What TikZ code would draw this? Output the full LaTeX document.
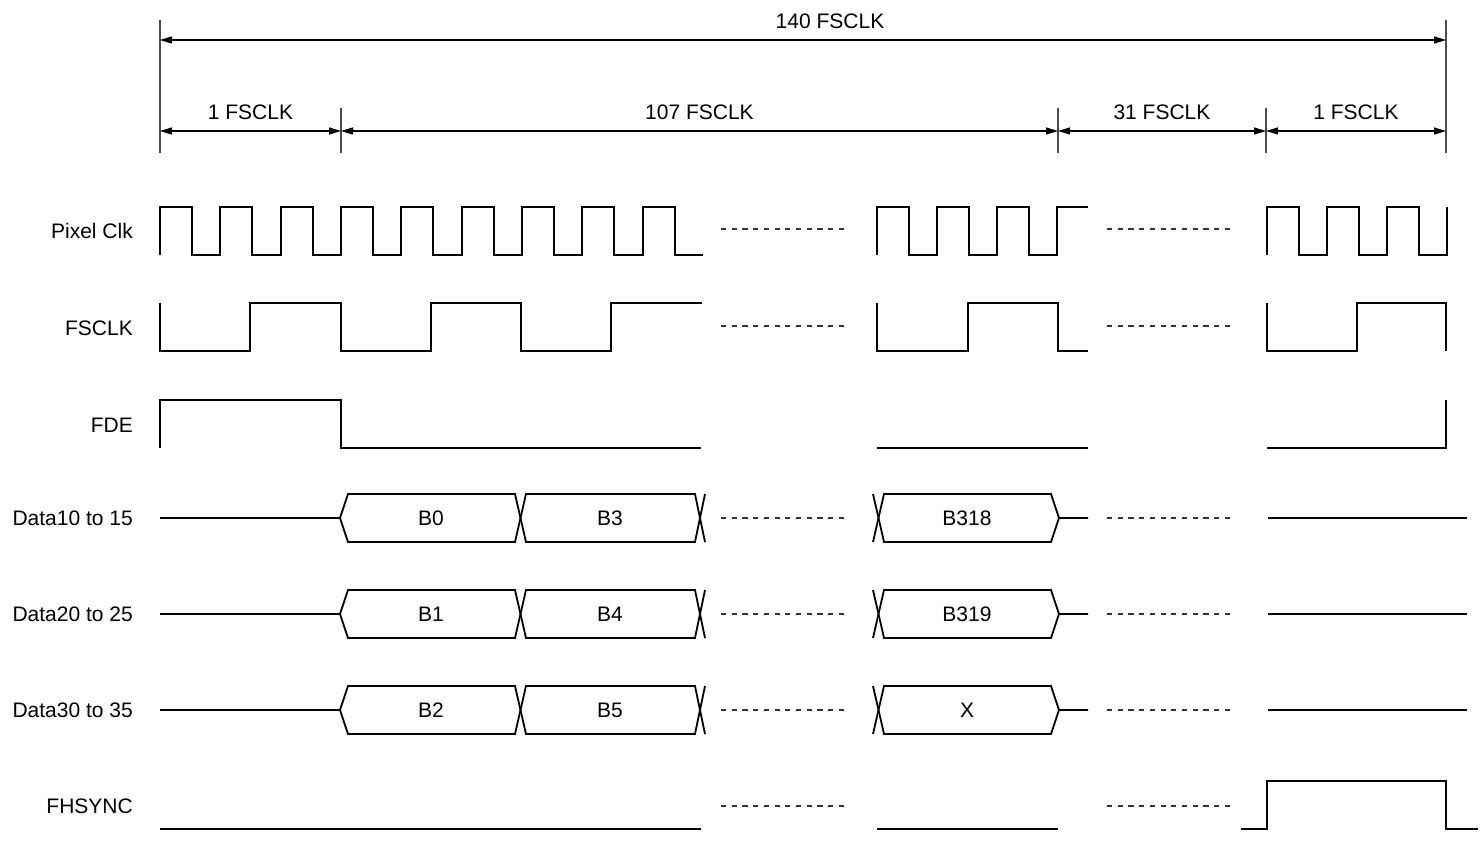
\documentclass[tikz,border=0pt]{standalone}
\usepackage{fontspec}
\setmainfont{Liberation Sans}
\usetikzlibrary{arrows.meta}

\begin{document}
\begin{tikzpicture}[x=1pt, y=-1pt,
			sig/.style={line width=1.8pt},
			gap/.style={line width=1.1pt, black!80, dash pattern=on 5.2pt off 5.5pt},
			ext/.style={line width=1.1pt, black!70},
			dim/.style={line width=1.1pt, {Triangle[length=12pt, width=7pt]}-{Triangle[length=12pt, width=7pt]}},
			dimlabel/.style={anchor=base, yshift=11pt, font=\fontsize{21}{25}\selectfont},
			signame/.style={anchor=base east, inner sep=0pt, font=\fontsize{21}{25}\selectfont},
			busval/.style={font=\fontsize{21}{25}\selectfont},
		]
		\useasboundingbox (0,0) rectangle (1481,842);

		% --- Quote: linee di riferimento e frecce ---
		\draw [ext] (160,20) -- (160,153);
		\draw [ext] (1446,20) -- (1446,153);
		\foreach \x in {341,1058,1266}
			\draw [ext] (\x,108) -- (\x,153);

		\coordinate (top0) at (160,40);
		\coordinate (top1) at (1446,40);
		\coordinate (m0) at (160,131);
		\coordinate (m1) at (341,131);
		\coordinate (m2) at (1058,131);
		\coordinate (m3) at (1266,131);
		\coordinate (m4) at (1446,131);

		\draw [dim] (top0) -- node[dimlabel, pos=0.521]{140 FSCLK} (top1);
		\draw [dim] (m0) -- node[dimlabel]{1 FSCLK} (m1);
		\draw [dim] (m1) -- node[dimlabel]{107 FSCLK} (m2);
		\draw [dim] (m2) -- node[dimlabel]{31 FSCLK} (m3);
		\draw [dim] (m3) -- node[dimlabel]{1 FSCLK} (m4);

		% --- Nomi dei segnali ---
		\node (lblpix) [signame] at (133,239) {Pixel Clk};
		\node (lblfs)  [signame] at (133,336) {FSCLK};
		\node (lblfde) [signame] at (133,432) {FDE};
		\node (lbld1)  [signame] at (133,525) {Data10 to 15};
		\node (lbld2)  [signame] at (133,621) {Data20 to 25};
		\node (lbld3)  [signame] at (133,717) {Data30 to 35};
		\node (lblhs)  [signame] at (133,813) {FHSYNC};

		% --- Pixel Clk ---
		\draw [sig] (160,255) \foreach \k in {1,...,9} { -- ++(0,-48) -- ++(32,0) -- ++(0,48) -- ++(28.33,0) };
		\draw [sig] (877,255) \foreach \k in {1,2,3} { -- ++(0,-48) -- ++(32,0) -- ++(0,48) -- ++(28,0) } -- ++(0,-48) -- (1088,207);
		\draw [sig] (1267,255) \foreach \k in {1,2,3} { -- ++(0,-48) -- ++(32,0) -- ++(0,48) -- ++(28,0) } -- ++(0,-48);

		% --- FSCLK ---
		\draw [sig] (160,303) -- (160,351) -- (250,351) -- (250,303) -- (341,303) -- (341,351) -- (431,351) -- (431,303)
			-- (521,303) -- (521,351) -- (611,351) -- (611,303) -- (702,303);
		\draw [sig] (877,303) -- (877,351) -- (968,351) -- (968,303) -- (1058,303) -- (1058,351) -- (1088,351);
		\draw [sig] (1267,303) -- (1267,351) -- (1357,351) -- (1357,303) -- (1446,303) -- (1446,351);

		% --- FDE ---
		\draw [sig] (160,448) -- (160,400) -- (341,400) -- (341,448) -- (701,448);
		\draw [sig] (877,448) -- (1088,448);
		\draw [sig] (1267,448) -- (1446,448) -- (1446,400);

		% --- Bus dati ---
		\foreach \c/\ta/\tb/\tc/\nm in {518/B0/B3/B318/da, 614/B1/B4/B319/db, 710/B2/B5/X/dc} {
			\draw [sig] (160,\c) -- (340,\c);
			\draw [sig] (340,\c) -- (348,\c-24) -- (515,\c-24) -- (526,\c+24) -- (695,\c+24) -- (705,\c-24);
			\draw [sig] (340,\c) -- (348,\c+24) -- (515,\c+24) -- (526,\c-24) -- (695,\c-24) -- (705,\c+24);
			\draw [sig] (873,\c-24) -- (884,\c+24) -- (1051,\c+24) -- (1059,\c) -- (1088,\c);
			\draw [sig] (873,\c+24) -- (884,\c-24) -- (1051,\c-24) -- (1059,\c);
			\draw [sig] (1268,\c) -- (1467,\c);
			\node (\nm1) [busval] at (431,\c) {\ta};
			\node (\nm2) [busval] at (610,\c) {\tb};
			\node (\nm3) [busval] at (967,\c) {\tc};
		}

		% --- FHSYNC ---
		\draw [sig] (160,829) -- (701,829);
		\draw [sig] (877,829) -- (1058,829);
		\draw [sig] (1241,829) -- (1267,829) -- (1267,781) -- (1446,781) -- (1446,829) -- (1478,829);

		% --- Tratti omessi ---
		\foreach \y in {229,326,518,614,710,806} {
			\draw [gap] (721,\y) -- (844,\y);
			\draw [gap] (1107,\y) -- (1231,\y);
		}

	\end{tikzpicture}
\end{document}
